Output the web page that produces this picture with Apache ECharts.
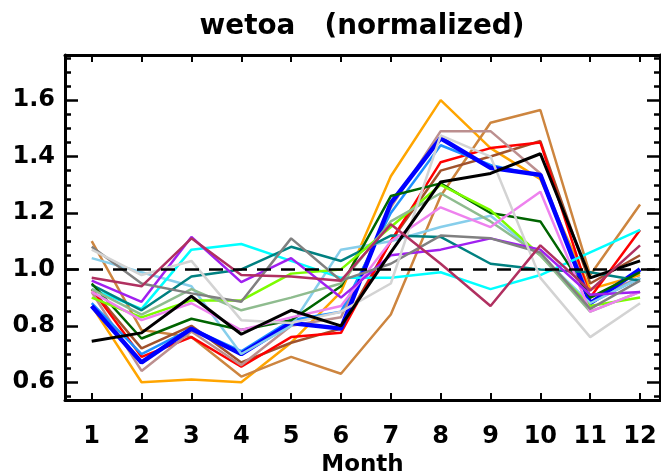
<!DOCTYPE html>
<html>
<head>
<meta charset="utf-8">
<script src="https://cdn.jsdelivr.net/npm/echarts@6/dist/echarts.min.js"></script>
<style>html,body{margin:0;padding:0;background:#fff}#c{width:661px;height:476px}</style>
</head>
<body>
<div id="c"></div>
<script>
const months = [1,2,3,4,5,6,7,8,9,10,11,12];
const yTickLabels = [0.6,0.8,1.0,1.2,1.4,1.6];
const yMinorTicks = [0.55,0.65,0.7,0.75,0.85,0.9,0.95,1.05,1.1,1.15,1.25,1.3,1.35,1.45,1.5,1.55,1.65,1.7,1.75];
const refValue = 1.0;

const orange      = [0.87,0.60,0.61,0.60,0.74,0.92,1.33,1.60,1.43,1.32,0.93,0.98];
const peru        = [1.10,0.785,0.76,0.62,0.69,0.63,0.84,1.26,1.52,1.565,0.98,1.23];
const sienna      = [0.93,0.72,0.80,0.67,0.74,0.79,1.10,1.35,1.40,1.455,0.95,1.05];
const red         = [0.93,0.69,0.76,0.655,0.76,0.775,1.10,1.38,1.43,1.45,0.90,1.14];
const rosybrown   = [0.92,0.64,0.78,0.66,0.80,0.83,1.22,1.49,1.49,1.34,0.90,0.97];
const dodgerblue  = [0.88,0.70,0.79,0.71,0.82,0.85,1.20,1.44,1.37,1.33,0.88,0.97];
const blue        = [0.87,0.67,0.79,0.70,0.81,0.79,1.235,1.465,1.36,1.335,0.88,1.00];
const skyblue     = [1.04,0.99,0.94,0.70,0.80,1.07,1.10,1.15,1.19,1.05,0.88,0.97];
const cyan        = [0.93,0.86,1.07,1.09,1.03,0.97,0.97,0.99,0.93,0.98,1.06,1.14];
const teal        = [0.945,0.855,0.975,1.00,1.08,1.03,1.12,1.115,1.02,1.00,0.99,0.96];
const darkgreen   = [0.95,0.755,0.825,0.785,0.82,0.94,1.26,1.305,1.20,1.17,0.90,0.99];
const lawngreen   = [0.90,0.83,0.89,0.89,0.985,1.00,1.15,1.30,1.21,1.05,0.87,0.90];
const seagreen    = [0.93,0.84,0.93,0.855,0.90,0.95,1.17,1.27,1.17,1.05,0.85,0.92];
const violet      = [0.92,0.82,0.88,0.785,0.83,0.87,1.10,1.22,1.15,1.275,0.85,0.92];
const purple      = [0.96,0.885,1.115,0.955,1.04,0.90,1.05,1.07,1.11,1.07,0.91,0.92];
const gray        = [1.08,0.95,0.915,0.885,1.11,0.96,1.02,1.12,1.11,1.06,0.86,0.96];
const lightgray   = [1.07,0.98,1.03,0.82,0.81,0.85,0.95,1.475,1.40,0.97,0.76,0.88];
const black       = [0.745,0.775,0.905,0.77,0.855,0.80,1.06,1.31,1.34,1.41,0.97,1.03];
const maroon      = [0.97,0.94,1.11,0.98,0.975,0.96,1.16,1.02,0.87,1.085,0.925,1.085];

const seriesList = [
  ['orange', orange, '#FFA500', 2.5],
  ['peru', peru, '#CD853F', 2.5],
  ['sienna', sienna, '#A0522D', 2.5],
  ['red', red, '#FF0000', 2.5],
  ['rosybrown', rosybrown, '#BC8F8F', 2.5],
  ['dodgerblue', dodgerblue, '#1E90FF', 2.5],
  ['blue', blue, '#0000FF', 4.5],
  ['skyblue', skyblue, '#87CEEB', 2.5],
  ['cyan', cyan, '#00FFFF', 2.5],
  ['teal', teal, '#008080', 2.5],
  ['darkgreen', darkgreen, '#006400', 2.5],
  ['lawngreen', lawngreen, '#7CFC00', 2.5],
  ['seagreen', seagreen, '#8FBC8F', 2.5],
  ['violet', violet, '#EE82EE', 2.5],
  ['purple', purple, '#A020F0', 2.5],
  ['gray', gray, '#808080', 2.5],
  ['lightgray', lightgray, '#D3D3D3', 2.5],
  ['black', black, '#000000', 3],
  ['maroon', maroon, '#B03060', 2.5]
];

const FONT = 'DejaVu Sans';
const xMin = 0.464, xMax = 12.40, yMin = 0.537, yMax = 1.76;
const axisLine = {show: true, onZero: false, lineStyle: {color: '#000', width: 3}};

const series = [{
  type: 'line', data: [], silent: true,
  markLine: {
    symbol: 'none', silent: true, label: {show: false},
    lineStyle: {color: '#000', width: 2.5, type: [14, 10]},
    data: [{yAxis: refValue}]
  }
}];
seriesList.forEach(([name, vals, color, w]) => {
  series.push({
    name, type: 'line', showSymbol: false, symbol: 'none',
    data: months.map((m, i) => [m, vals[i]]),
    lineStyle: {color, width: w}, itemStyle: {color},
    z: 3
  });
});

const chart = echarts.init(document.getElementById('c'), null, {renderer: 'canvas'});
chart.setOption({
  animation: false,
  graphic: [{
    type: 'text', x: 362, y: 12, scaleX: 0.96,
    style: {text: 'wetoa   (normalized)', fontFamily: FONT, fontSize: 29, fontWeight: 'bold', fill: '#000', align: 'center', verticalAlign: 'top'}
  }],
  grid: {left: 65, right: 1, top: 55, bottom: 76, containLabel: false, outerBoundsMode: 'none'},
  xAxis: [
    {type: 'value', position: 'bottom', min: xMin, max: xMax,
     name: 'Month', nameLocation: 'middle', nameGap: 54,
     nameTextStyle: {fontFamily: FONT, fontSize: 23, fontWeight: 'bold', color: '#000'},
     axisLine, splitLine: {show: false},
     axisTick: {show: true, inside: true, length: 7, lineStyle: {color: '#000', width: 2}, customValues: months},
     axisLabel: {show: true, margin: 25, fontFamily: FONT, fontSize: 24, fontWeight: 'bold', color: '#000', customValues: months, formatter: v => String(v)}
    },
    {type: 'value', position: 'top', min: xMin, max: xMax,
     axisLine, splitLine: {show: false},
     axisTick: {show: true, inside: true, length: 7, lineStyle: {color: '#000', width: 2}, customValues: months},
     axisLabel: {show: false}
    }
  ],
  yAxis: [
    {type: 'value', position: 'left', min: yMin, max: yMax,
     axisLine, splitLine: {show: false},
     axisTick: {show: true, inside: true, length: 13, lineStyle: {color: '#000', width: 2.5}, customValues: yTickLabels},
     axisLabel: {show: true, margin: 10, fontFamily: FONT, fontSize: 24, fontWeight: 'bold', color: '#000', customValues: yTickLabels, formatter: v => v.toFixed(1)}
    },
    {type: 'value', position: 'left', min: yMin, max: yMax,
     axisLine: {show: false}, splitLine: {show: false},
     axisTick: {show: true, inside: true, length: 6, lineStyle: {color: '#000', width: 2.5}, customValues: yMinorTicks},
     axisLabel: {show: false}
    },
    {type: 'value', position: 'right', min: yMin, max: yMax,
     axisLine, splitLine: {show: false},
     axisTick: {show: true, inside: true, length: 13, lineStyle: {color: '#000', width: 2.5}, customValues: yTickLabels},
     axisLabel: {show: false}
    },
    {type: 'value', position: 'right', min: yMin, max: yMax,
     axisLine: {show: false}, splitLine: {show: false},
     axisTick: {show: true, inside: true, length: 6, lineStyle: {color: '#000', width: 2.5}, customValues: yMinorTicks},
     axisLabel: {show: false}
    }
  ],
  series
});
</script>
</body>
</html>
